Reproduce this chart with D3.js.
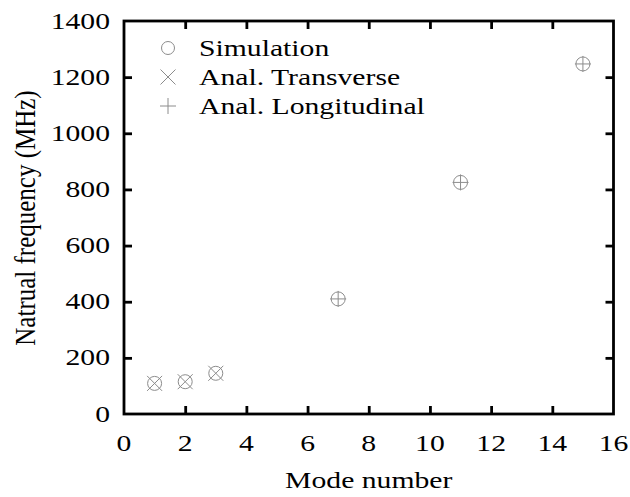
<!DOCTYPE html>
<html>
<head>
<meta charset="utf-8">
<script src="https://cdn.jsdelivr.net/npm/d3@7"></script>
<style>
  html, body { margin: 0; padding: 0; background: #fff; }
</style>
</head>
<body>
<svg id="chart" width="630" height="497"></svg>
<script>
// Natural frequency per mode number
const simModes = [1, 2, 3, 7, 11, 15];
const simFreq = [109, 115, 145, 410, 825, 1247];
const transModes = [1, 2, 3];
const transFreq = [109, 115, 145];
const longModes = [7, 11, 15];
const longFreq = [410, 825, 1247];
const xTicks = [0, 2, 4, 6, 8, 10, 12, 14, 16];
const yTicks = [0, 200, 400, 600, 800, 1000, 1200, 1400];
const legendLabels = ["Simulation", "Anal. Transverse", "Anal. Longitudinal"];

const svg = d3.select("#chart");
const W = 630, H = 497;
const margin = { left: 124, right: W - 613.5, top: 21, bottom: H - 414 };
const x = d3.scaleLinear().domain([0, 16]).range([margin.left, W - margin.right]);
const y = d3.scaleLinear().domain([0, 1400]).range([H - margin.bottom, margin.top]);

const tickLen = 8;
const axisW = 2.8;
const FONT = '"Liberation Serif", "Times New Roman", serif';
const fontSize = 22.5;   // glyph height
const stretch = 1.32;    // glyphs are set wide

// Text helper: wide serif glyphs
function label(parent, tx, ty, str, anchor) {
  const grp = parent.append("g")
    .attr("transform", `translate(${tx},${ty}) scale(${stretch},1)`);
  return grp.append("text")
    .attr("text-anchor", anchor)
    .style("font-family", FONT)
    .style("font-size", fontSize + "px")
    .attr("fill", "#000")
    .text(str);
}

// Frame ticks, mirrored on every side and pointing inward
const g = svg.append("g");
const axBottom = g.append("g").attr("transform", `translate(0,${y(0)})`)
  .call(d3.axisBottom(x).tickValues(xTicks.slice(1, -1)).tickSizeInner(-tickLen).tickSizeOuter(0).tickFormat(""));
const axTop = g.append("g").attr("transform", `translate(0,${y(1400)})`)
  .call(d3.axisTop(x).tickValues(xTicks.slice(1, -1)).tickSizeInner(-tickLen).tickSizeOuter(0).tickFormat(""));
const axLeft = g.append("g").attr("transform", `translate(${x(0)},0)`)
  .call(d3.axisLeft(y).tickValues(yTicks.slice(1, -1)).tickSizeInner(-tickLen).tickSizeOuter(0).tickFormat(""));
const axRight = g.append("g").attr("transform", `translate(${x(16)},0)`)
  .call(d3.axisRight(y).tickValues(yTicks.slice(1, -1)).tickSizeInner(-tickLen).tickSizeOuter(0).tickFormat(""));

[axBottom, axTop, axLeft, axRight].forEach(a => {
  a.select(".domain").remove();
  a.selectAll(".tick line").attr("stroke", "#000").attr("stroke-width", axisW);
});

g.append("rect")
  .attr("x", x(0)).attr("y", y(1400))
  .attr("width", x(16) - x(0)).attr("height", y(0) - y(1400))
  .attr("fill", "none").attr("stroke", "#000").attr("stroke-width", axisW);

// Tick labels
const labels = svg.append("g");
xTicks.forEach(v => label(labels, x(v), 451, String(v), "middle"));
yTicks.forEach(v => label(labels, 110, y(v) + 7.5, String(v), "end"));

// Axis titles
label(svg, (x(0) + x(16)) / 2, 488, "Mode number", "middle");
{
  const baseX = 35, cy = 218;
  const grp = svg.append("g").attr("transform", `translate(${baseX},${cy}) scale(1.2,1) rotate(-90)`);
  grp.append("text")
    .attr("text-anchor", "middle")
    .style("font-family", FONT)
    .style("font-size", "25px")
    .attr("fill", "#000")
    .text("Natrual frequency (MHz)");
}

// Marker shapes
const markColor = "#8c8c8c";
function circleMark(sel, r) {
  sel.append("circle").attr("r", r).attr("fill", "none")
    .attr("stroke", markColor).attr("stroke-width", 1);
}
function crossMark(sel, s) {
  sel.append("path").attr("d", `M${-s},${-s}L${s},${s}M${-s},${s}L${s},${-s}`)
    .attr("stroke", markColor).attr("stroke-width", 1).attr("fill", "none");
}
function plusMark(sel, s) {
  sel.append("path").attr("d", `M${-s},0L${s},0M0,${-s}L0,${s}`)
    .attr("stroke", markColor).attr("stroke-width", 1).attr("fill", "none");
}

const pts = svg.append("g");
pts.selectAll("g.sim").data(simModes.map((m, i) => [m, simFreq[i]])).join("g")
  .attr("class", "sim").attr("transform", d => `translate(${x(d[0])},${y(d[1])})`)
  .each(function () { circleMark(d3.select(this), 7); });
pts.selectAll("g.trans").data(transModes.map((m, i) => [m, transFreq[i]])).join("g")
  .attr("class", "trans").attr("transform", d => `translate(${x(d[0])},${y(d[1])})`)
  .each(function () { crossMark(d3.select(this), 7.5); });
pts.selectAll("g.long").data(longModes.map((m, i) => [m, longFreq[i]])).join("g")
  .attr("class", "long").attr("transform", d => `translate(${x(d[0])},${y(d[1])})`)
  .each(function () { plusMark(d3.select(this), 8); });

// Legend
const legend = svg.append("g");
const markers = [circleMark, crossMark, plusMark];
const sizes = [6.5, 7.5, 8];
legendLabels.forEach((lab, i) => {
  const cy = 48 + i * 29;
  const m = legend.append("g").attr("transform", `translate(168,${cy})`);
  markers[i](m, sizes[i]);
  label(legend, 199, cy + 8, lab, "start");
});
</script>
</body>
</html>
